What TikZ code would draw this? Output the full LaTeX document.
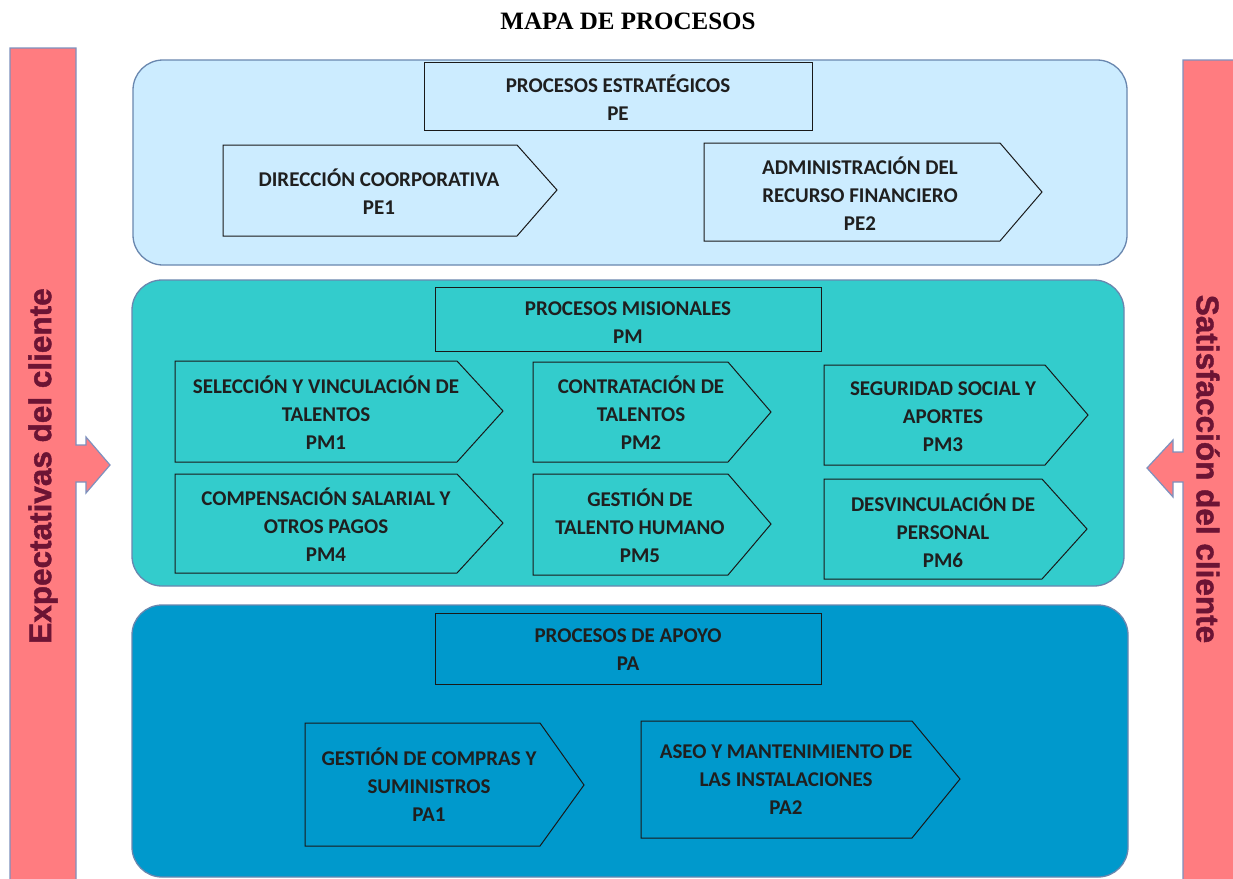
\documentclass[tikz,border=0pt]{standalone}
\usepackage{fontspec}
\newfontfamily\boxfont{Carlito}
\newfontfamily\titlefont{Liberation Serif}
\newfontfamily\sidefont[BoldFeatures={FakeBold=1.4}]{Liberation Sans}
\definecolor{sidepink}{RGB}{255,124,128}
\definecolor{sideedge}{RGB}{125,145,190}
\definecolor{sidetext}{RGB}{108,20,52}
\definecolor{paneledge}{RGB}{105,135,175}
\definecolor{strat}{RGB}{204,236,255}
\definecolor{mision}{RGB}{51,204,204}
\definecolor{apoyo}{RGB}{0,153,204}
\tikzset{
  panel/.style={draw=paneledge, line width=1.3pt, rounded corners=30pt},
  procbox/.style={draw=black!90, line width=1pt},
  proctext/.style={font=\boxfont\bfseries\fontsize{21}{28}\selectfont, align=center, text=black!88},
  sidebar/.style={fill=sidepink, draw=sideedge, line width=1.2pt, line join=miter},
  sidelabel/.style={font=\sidefont\bfseries\fontsize{31.5}{34}\selectfont, text=sidetext},
}
\begin{document}
\begin{tikzpicture}[x=1pt,y=-1pt]
\useasboundingbox (0,0) rectangle (1233,878);
\clip (0,0) rectangle (1233,878);
\fill[white] (0,0) rectangle (1233,878);

% title
\node[font=\titlefont\bfseries\fontsize{25}{28}\selectfont] (title) at (628,21) {MAPA DE PROCESOS};

% side bars with arrows
\draw[sidebar] (10,48) -- (76,48) -- (76,445) -- (86,445) -- (86,437) -- (110,465)
  -- (86,493) -- (86,482) -- (76,482) -- (76,882) -- (10,882) -- cycle;
\node[sidelabel, rotate=90] (expect) at (43,466) {Expectativas del cliente};
\draw[sidebar] (1183,60) -- (1237,60) -- (1237,882) -- (1183,882) -- (1183,482)
  -- (1173,482) -- (1173,497) -- (1147,468) -- (1173,440) -- (1173,452) -- (1183,452) -- cycle;
\node[sidelabel, rotate=-90] (satisf) at (1208,469) {Satisfacción del cliente};

% strategic processes
\draw[panel, fill=strat] (133,60) rectangle (1127,265);
\draw[procbox] (424,62) rectangle (812,130);
\node[proctext] (pe) at (618,98) {PROCESOS ESTRATÉGICOS\\PE};
\draw[procbox] (223,145) -- (517,145) -- (557,190) -- (517,236) -- (223,236) -- cycle;
\node[proctext] (pe1) at (379,192) {DIRECCIÓN COORPORATIVA\\PE1};
\draw[procbox] (704,143) -- (1000,143) -- (1042,192) -- (1000,241) -- (704,241) -- cycle;
\node[proctext] (pe2) at (860,194) {ADMINISTRACIÓN DEL\\RECURSO FINANCIERO\\PE2};

% missional processes
\draw[panel, fill=mision] (132,280) rectangle (1124,586);
\draw[procbox] (435,287) rectangle (821,351);
\node[proctext] (pm) at (628,323) {PROCESOS MISIONALES\\PM};
\draw[procbox] (175,361) -- (457,361) -- (503,411) -- (457,462) -- (175,462) -- cycle;
\node[proctext] (pm1) at (326,413) {SELECCIÓN Y VINCULACIÓN DE\\TALENTOS\\PM1};
\draw[procbox] (533,362) -- (728,362) -- (771,412) -- (728,462) -- (533,462) -- cycle;
\node[proctext] (pm2) at (641,413) {CONTRATACIÓN DE\\TALENTOS\\PM2};
\draw[procbox] (824,365) -- (1045,365) -- (1088,415) -- (1045,465) -- (824,465) -- cycle;
\node[proctext] (pm3) at (943,417) {SEGURIDAD SOCIAL Y\\APORTES\\PM3};
\draw[procbox] (175,474) -- (457,474) -- (503,523) -- (457,573) -- (175,573) -- cycle;
\node[proctext] (pm4) at (326,525) {COMPENSACIÓN SALARIAL Y\\OTROS PAGOS\\PM4};
\draw[procbox] (533,474) -- (728,474) -- (771,524) -- (728,575) -- (533,575) -- cycle;
\node[proctext] (pm5) at (640,526) {GESTIÓN DE\\TALENTO HUMANO\\PM5};
\draw[procbox] (824,479) -- (1042,479) -- (1087,529) -- (1042,579) -- (824,579) -- cycle;
\node[proctext] (pm6) at (943,531) {DESVINCULACIÓN DE\\PERSONAL\\PM6};

% support processes
\draw[panel, fill=apoyo] (132,605) rectangle (1128,877);
\draw[procbox] (435,613) rectangle (821,684);
\node[proctext] (pa) at (628,650) {PROCESOS DE APOYO\\PA};
\draw[procbox] (305,723) -- (540,723) -- (584,785) -- (540,846) -- (305,846) -- cycle;
\node[proctext] (pa1) at (429,785) {GESTIÓN DE COMPRAS Y\\SUMINISTROS\\PA1};
\draw[procbox] (641,721) -- (912,721) -- (960,779) -- (912,838) -- (641,838) -- cycle;
\node[proctext] (pa2) at (786,780) {ASEO Y MANTENIMIENTO DE\\LAS INSTALACIONES\\PA2};
\end{tikzpicture}
\end{document}
